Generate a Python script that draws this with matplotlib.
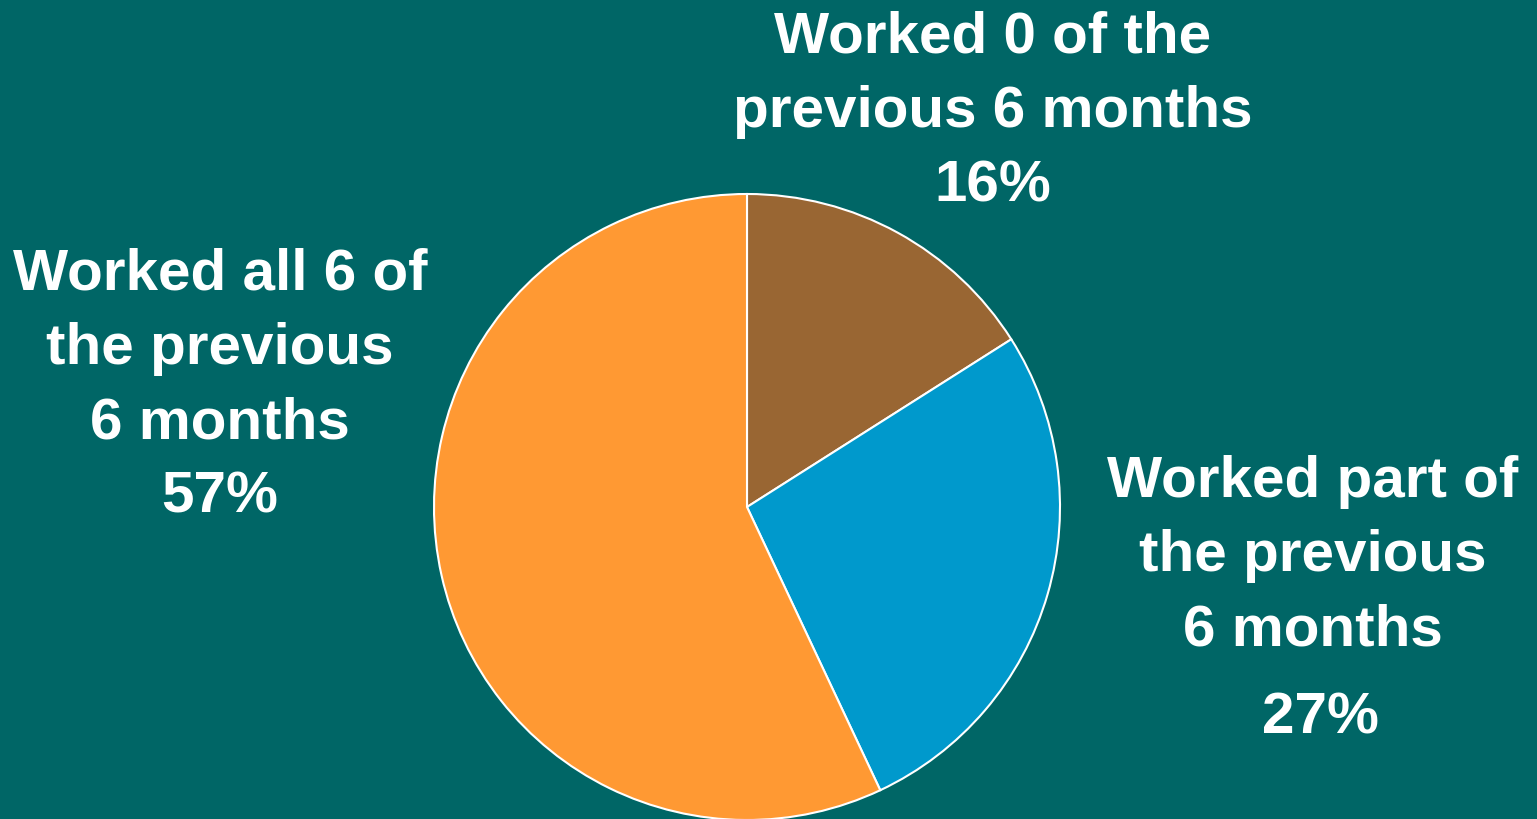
import matplotlib.pyplot as plt

# Share of workers by months worked in the previous 6 months
CATEGORIES = [
    "Worked 0 of the\nprevious 6 months",
    "Worked part of\nthe previous\n6 months",
    "Worked all 6 of\nthe previous\n6 months",
]
SHARES = [16, 27, 57]
SLICE_COLORS = ["#996633", "#0099CC", "#FF9933"]

BACKGROUND = "#006666"
TEXT_COLOR = "white"
FONT_SIZE = 42
WIDTH_PX, HEIGHT_PX = 1537, 819

plt.rcParams["font.family"] = ["Liberation Sans", "DejaVu Sans"]

fig = plt.figure(figsize=(WIDTH_PX / 100, HEIGHT_PX / 100), dpi=100,
                 facecolor=BACKGROUND)
ax = fig.add_axes([0, 0, 1, 1])
ax.set_facecolor(BACKGROUND)

ax.pie(SHARES, colors=SLICE_COLORS, startangle=90, counterclock=False,
       center=(747, HEIGHT_PX - 507), radius=313, frame=True,
       wedgeprops=dict(edgecolor="white", linewidth=1.5))
ax.set_xlim(0, WIDTH_PX)
ax.set_ylim(0, HEIGHT_PX)
ax.set_aspect("equal")
ax.axis("off")

text_style = dict(color=TEXT_COLOR, fontsize=FONT_SIZE, fontweight="bold",
                  ha="center", va="center", linespacing=1.48)

# top slice label: name and share in one block
ax.text(993, HEIGHT_PX - 112, f"{CATEGORIES[0]}\n{SHARES[0]}%", **text_style)
# right slice label, share set a little lower
ax.text(1313, HEIGHT_PX - 556, CATEGORIES[1], **text_style)
ax.text(1320, HEIGHT_PX - 718, f"{SHARES[1]}%", **text_style)
# left slice label
ax.text(220, HEIGHT_PX - 386, f"{CATEGORIES[2]}\n{SHARES[2]}%", **text_style)

fig.savefig("out.png", dpi=100, facecolor=BACKGROUND)
